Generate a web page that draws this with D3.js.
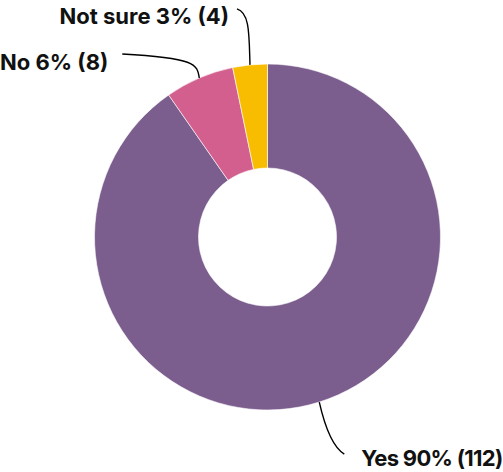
<!DOCTYPE html>
<html><head><meta charset="utf-8">
<script src="https://cdn.jsdelivr.net/npm/d3@7"></script>
<style>html,body{margin:0;padding:0;background:#fff;overflow:hidden;}svg{display:block;}</style>
</head><body>
<script>
const categories = ["Yes", "No", "Not sure"];
const counts = [112, 8, 4];
const percentLabels = ["90%", "6%", "3%"];
const colors = ["#7b5e8e", "#d35f8e", "#f8bd00"];

const W = 503, H = 472;
const cx = 267.5, cy = 237, R = 173, r = 69;
const svg = d3.select("body").append("svg").attr("width", W).attr("height", H);
const g = svg.append("g").attr("transform", `translate(${cx},${cy})`);

const data = categories.map((c, i) => ({cat: c, value: counts[i], pct: percentLabels[i], color: colors[i]}));
const pie = d3.pie().value(d => d.value).sort(null);
const arcs = pie(data);
const arc = d3.arc().innerRadius(r).outerRadius(R);

g.selectAll("path.slice").data(arcs).join("path")
  .attr("class", "slice")
  .attr("d", arc)
  .attr("fill", d => d.data.color)
  .attr("stroke", "#fff").attr("stroke-width", 0.6);

const outerPt = d => {
  const a = (d.startAngle + d.endAngle) / 2;
  return [R * Math.sin(a), -R * Math.cos(a)];
};
const leaders = {
  "Yes": {c1: [5, 22], c2: [12, 44], end: [25, 52], text: [42, 64], anchor: "start", ls: -0.7},
  "No": {c1: [-2, -14], c2: [-4, -20], end: [-77, -24], text: [-91, -8], anchor: "end", ls: 0},
  "Not sure": {c1: [-1, -30], c2: [0, -52], end: [-13, -56], text: [-21, -41], anchor: "end", ls: 0}
};
const lab = g.append("g");
arcs.forEach(d => {
  const [x0, y0] = outerPt(d);
  const L = leaders[d.data.cat];
  const p = d3.path();
  p.moveTo(x0, y0);
  p.bezierCurveTo(x0 + L.c1[0], y0 + L.c1[1], x0 + L.c2[0], y0 + L.c2[1], x0 + L.end[0], y0 + L.end[1]);
  lab.append("path").attr("d", p.toString()).attr("fill", "none")
    .attr("stroke", "#000").attr("stroke-width", 1.4);
  lab.append("text")
    .attr("x", x0 + L.text[0]).attr("y", y0 + L.text[1])
    .attr("text-anchor", L.anchor)
    .attr("font-family", "Inter, sans-serif")
    .attr("font-weight", 700)
    .attr("font-size", 22)
    .attr("letter-spacing", L.ls + "px")
    .attr("fill", "#111")
    .text(`${d.data.cat} ${d.data.pct} (${d.data.value})`);
});
</script>
</body></html>
